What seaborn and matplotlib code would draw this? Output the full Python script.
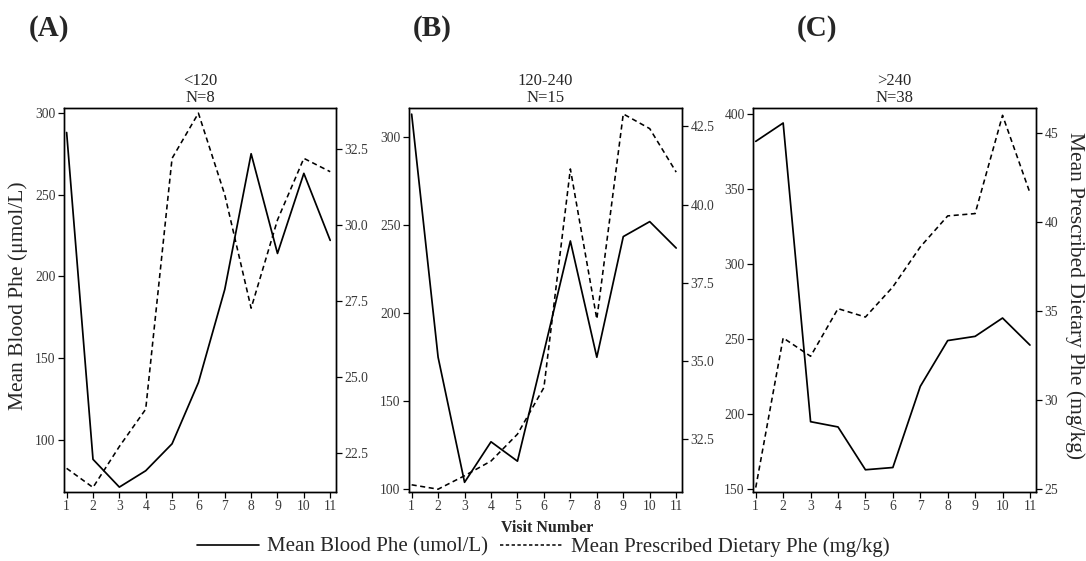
import numpy as np
import pandas as pd
import matplotlib
matplotlib.use("Agg")
import matplotlib.pyplot as plt
from matplotlib.lines import Line2D
from matplotlib.ticker import FormatStrFormatter, FixedLocator
import seaborn as sns

# Visit numbers shared by all three baseline groups
visits = list(range(1, 12))

# Group titles
group_titles = ["<120\nN=8", "120-240\nN=15", ">240\nN=38"]
panel_letters = ["(A)", "(B)", "(C)"]

# Mean blood Phe (umol/L) per visit
blood_lt120 = [288, 88, 71, 81, 97.5, 135, 192, 275, 214, 263, 222]
blood_120_240 = [313, 175, 104, 127, 116, 178, 241, 175, 243.5, 252, 237]
blood_gt240 = [381.6, 393.8, 195, 191.5, 163, 164.5, 218.5, 249, 251.8, 264, 246]

# Mean prescribed dietary Phe (mg/kg) per visit
diet_lt120 = [21.98, 21.35, 22.7, 23.93, 32.2, 33.69, 31.0, 27.26, 30.17, 32.2, 31.76]
diet_120_240 = [31.04, 30.9, 31.33, 31.8, 32.66, 34.15, 41.14, 36.34, 42.9, 42.43, 41.04]
diet_gt240 = [25.1, 33.49, 32.46, 35.13, 34.66, 36.35, 38.59, 40.33, 40.46, 45.97, 41.62]

blood_series = [blood_lt120, blood_120_240, blood_gt240]
diet_series = [diet_lt120, diet_120_240, diet_gt240]

# Axis ranges and ticks for each panel
left_ylims = [(68, 303), (98.5, 316.5), (148.2, 403.8)]
right_ylims = [(21.2, 33.86), (30.81, 43.09), (24.85, 46.38)]
left_ticks = [[100, 150, 200, 250, 300], [100, 150, 200, 250, 300],
              [150, 200, 250, 300, 350, 400]]
right_ticks = [[22.5, 25.0, 27.5, 30.0, 32.5], [32.5, 35.0, 37.5, 40.0, 42.5],
               [25, 30, 35, 40, 45]]
right_fmt = ["%.1f", "%.1f", "%.0f"]

sns.set_style("ticks")
plt.rcParams["font.family"] = ["Liberation Serif", "DejaVu Serif"]

W, H = 1086, 561
fig = plt.figure(figsize=(W / 100, H / 100), dpi=100)

# Axes boxes in pixels: (left, right)
boxes = [(64, 336), (409, 682), (753, 1036)]
top_px, bot_px = 108, 492

dash = (0, (3.2, 2.2))
tick_color = "#3a3a3a"

for i in range(3):
    l, r = boxes[i]
    ax = fig.add_axes([l / W, (H - bot_px) / H, (r - l) / W, (bot_px - top_px) / H])
    df = pd.DataFrame({"visit": visits, "blood": blood_series[i], "diet": diet_series[i]})

    sns.lineplot(data=df, x="visit", y="blood", ax=ax, color="black", lw=1.25)
    ax.set_xlim(0.9, 11.22)
    ax.set_ylim(*left_ylims[i])
    ax.yaxis.set_major_locator(FixedLocator(left_ticks[i]))
    ax.set_xticks(visits)
    ax.set_xlabel("")
    ax.set_ylabel("")
    ax.set_title(group_titles[i], fontsize=12, pad=4, linespacing=1.1)

    ax2 = ax.twinx()
    sns.lineplot(data=df, x="visit", y="diet", ax=ax2, color="black", lw=1.15,
                 linestyle=dash)
    ax2.set_ylim(*right_ylims[i])
    ax2.yaxis.set_major_locator(FixedLocator(right_ticks[i]))
    ax2.yaxis.set_major_formatter(FormatStrFormatter(right_fmt[i]))
    ax2.set_ylabel("")

    for a in (ax, ax2):
        a.tick_params(direction="out", length=4, width=0.9, labelsize=9.8,
                      colors="black", pad=2)
        for s in a.spines.values():
            s.set_linewidth(1.0)
            s.set_color("black")
            s.set_visible(True)
    for lab in ax.get_xticklabels() + ax.get_yticklabels() + ax2.get_yticklabels():
        lab.set_color(tick_color)

    cx = [49, 432, 817][i]
    fig.text(cx / W, 1 - 28 / H, panel_letters[i], fontsize=21, fontweight="bold",
             ha="center", va="center")

fig.text(18 / W, 1 - 296 / H, "Mean Blood Phe (μmol/L)", rotation=90,
         fontsize=15.5, ha="center", va="center")
fig.text(1075 / W, 1 - 296 / H, "Mean Prescribed Dietary Phe (mg/kg)", rotation=270,
         fontsize=15.5, ha="center", va="center")
fig.text(547 / W, 1 - 528 / H, "Visit Number", fontsize=11.5, fontweight="bold",
         ha="center", va="center")

handles = [Line2D([], [], color="black", lw=1.2),
           Line2D([], [], color="black", lw=1.1, linestyle=(0, (2.2, 1.6)))]
fig.legend(handles, ["Mean Blood Phe (umol/L)", "Mean Prescribed Dietary Phe (mg/kg)"],
           loc="center", bbox_to_anchor=(543 / W, 1 - 547 / H), ncol=2, frameon=False,
           fontsize=15, handlelength=3.0, handletextpad=0.4, columnspacing=0.55,
           borderpad=0, borderaxespad=0)

fig.savefig("out.png", dpi=100)
